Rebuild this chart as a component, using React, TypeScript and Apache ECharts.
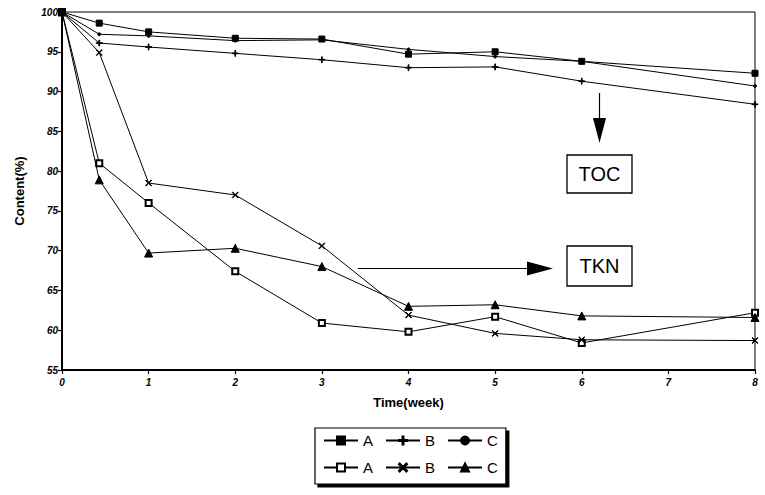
import React, { useEffect, useRef } from "react";
import * as echarts from "echarts";

const weeks = [0, 0.43, 1, 2, 3, 4, 5, 6, 8];
const tocA = [100, 98.6, 97.5, 96.7, 96.6, 94.7, 95.0, 93.8, 92.3];
const tocB = [100, 96.1, 95.6, 94.8, 94.0, 93.0, 93.1, 91.3, 88.4];
const tocC = [100, 97.2, 97.0, 96.4, 96.5, 95.3, 94.4, 93.8, 90.7];
const tknA = [100, 81.0, 76.0, 67.4, 60.9, 59.8, 61.7, 58.4, 62.2];
const tknB = [100, 94.9, 78.5, 77.0, 70.6, 61.9, 59.6, 58.8, 58.7];
const tknC = [100, 78.9, 69.7, 70.3, 68.0, 63.0, 63.2, 61.8, 61.6];

const FONT = "Liberation Sans";

const plusPath = "path://M4.4,0h1.2v4.4h4.4v1.2h-4.4v4.4h-1.2v-4.4h-4.4v-1.2h4.4z";
const crossPath = "path://M0,0.8L0.8,0L5,4.2L9.2,0L10,0.8L5.8,5L10,9.2L9.2,10L5,5.8L0.8,10L0,9.2L4.2,5z";

function pairs(vals: number[]) {
  return weeks.map((w, i) => [w, vals[i]]);
}

export default function App() {
  const ref = useRef<HTMLDivElement>(null);
  useEffect(() => {
    if (!ref.current) return;
    const chart = echarts.init(ref.current, null, { renderer: "svg" });
    const mk = (name: string, vals: number[], symbol: string, size: number, z = 2) => ({
      name,
      type: "line",
      data: pairs(vals),
      symbol,
      symbolSize: size,
      z,
      lineStyle: { color: "#000", width: 1 },
      itemStyle: { color: "#000", borderColor: "#000", borderWidth: 1 },
      emphasis: { disabled: true },
    });
    chart.setOption({
      animation: false,
      backgroundColor: "#fff",
      grid: {
        left: 62,
        right: 10,
        top: 12,
        bottom: 125,
        show: true,
        borderColor: "#000",
        borderWidth: 1,
        backgroundColor: "transparent",
      },
      xAxis: {
        type: "value",
        min: 0,
        max: 8,
        interval: 1,
        name: "Time(week)",
        nameLocation: "middle",
        nameGap: 26,
        nameTextStyle: { fontFamily: FONT, fontWeight: "bold", fontSize: 13, color: "#000" },
        axisLine: { show: true, lineStyle: { color: "#000", width: 2 } },
        axisTick: { show: true, length: 4, lineStyle: { color: "#000", width: 1.2 } },
        axisLabel: {
          fontFamily: FONT,
          fontWeight: "bold",
          fontStyle: "italic",
          fontSize: 10,
          color: "#000",
          margin: 7,
        },
        splitLine: { show: false },
      },
      yAxis: {
        type: "value",
        min: 55,
        max: 100,
        interval: 5,
        name: "Content(%)",
        nameLocation: "middle",
        nameGap: 36,
        nameRotate: 90,
        nameTextStyle: { fontFamily: FONT, fontWeight: "bold", fontSize: 13, color: "#000" },
        axisLine: { show: true, lineStyle: { color: "#000", width: 2 } },
        axisTick: { show: true, length: 4, lineStyle: { color: "#000", width: 1.2 } },
        axisLabel: {
          fontFamily: FONT,
          fontWeight: "bold",
          fontStyle: "italic",
          fontSize: 10,
          color: "#000",
          margin: 4,
        },
        splitLine: { show: false },
      },
      legend: {
        left: 315,
        top: 428,
        width: 200,
        padding: [5, 8, 9, 8],
        itemWidth: 34,
        itemHeight: 10,
        itemGap: 12,
        borderColor: "#000",
        borderWidth: 1.2,
        backgroundColor: "#fff",
        shadowColor: "#000",
        shadowBlur: 0,
        shadowOffsetX: 3,
        shadowOffsetY: 3,
        selectedMode: false,
        formatter: (name: string) => name.split(" ")[0],
        textStyle: { fontFamily: FONT, fontSize: 15, color: "#000" },
        data: ["A TOC", "B TOC", "C TOC", "A TKN", "B TKN", "C TKN"],
      },
      series: [
        mk("A TOC", tocA, "rect", 6),
        mk("B TOC", tocB, plusPath, 6),
        mk("C TOC", tocC, "circle", 3),
        mk("A TKN", tknA, "emptyRect", 6),
        mk("B TKN", tknB, crossPath, 6),
        mk("C TKN", tknC, "triangle", 8),
      ],
      graphic: [
        { type: "line", shape: { x1: 599.5, y1: 93, x2: 599.5, y2: 122 }, style: { stroke: "#000", lineWidth: 1.2 } },
        { type: "polygon", shape: { points: [[593, 118], [606, 118], [599.5, 143]] }, style: { fill: "#000" } },
        { type: "rect", shape: { x: 567, y: 155, width: 65, height: 38 }, style: { fill: "#fff", stroke: "#000", lineWidth: 1.3 } },
        {
          type: "text",
          x: 599.5,
          y: 174,
          style: { text: "TOC", fontFamily: FONT, fontSize: 20, fill: "#000", align: "center", verticalAlign: "middle" },
        },
        { type: "rect", shape: { x: 567, y: 246, width: 65, height: 40 }, style: { fill: "#fff", stroke: "#000", lineWidth: 1.3 } },
        {
          type: "text",
          x: 599.5,
          y: 266,
          style: { text: "TKN", fontFamily: FONT, fontSize: 20, fill: "#000", align: "center", verticalAlign: "middle" },
        },
        { type: "line", shape: { x1: 358, y1: 268.5, x2: 530, y2: 268.5 }, style: { stroke: "#000", lineWidth: 1.2 } },
        { type: "polygon", shape: { points: [[527, 261.5], [527, 275.5], [553, 268.5]] }, style: { fill: "#000" } },
      ],
    });
    return () => chart.dispose();
  }, []);
  return <div ref={ref} style={{ width: 765, height: 495, position: "absolute", left: 0, top: 0 }} />;
}
